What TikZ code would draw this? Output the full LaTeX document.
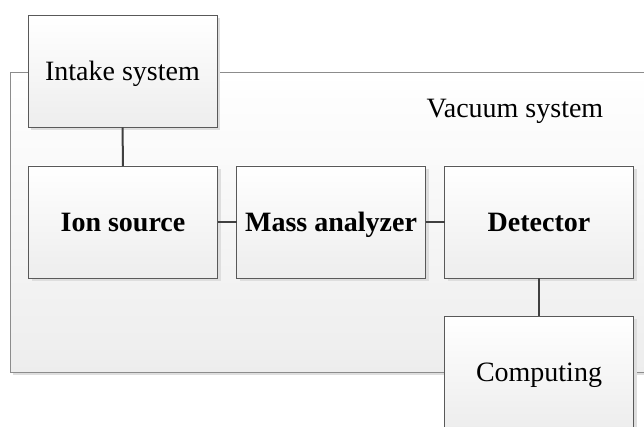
\documentclass[tikz,border=0pt]{standalone}
\usepackage{fontspec}
\setmainfont{Liberation Serif}
\usetikzlibrary{positioning,shadows}
\tikzset{%
  block/.style   = {shape=rectangle, draw=black!65, line width=0.9pt,%
                    top color=white, bottom color=black!7,%
                    minimum width=189pt, minimum height=112pt,%
                    inner sep=0pt, outer sep=0pt,%
                    text height=19pt, text depth=0pt,%
                    drop shadow={shadow xshift=3pt, shadow yshift=-3pt,%
                                 fill=black!13, opacity=1},%
                    font=\fontsize{28}{33}\selectfont},%
  stage/.style   = {block, font=\fontsize{28}{33}\selectfont\bfseries},%
  chamber/.style = {block, draw=black!45, minimum width=650pt,%
                    minimum height=300pt},%
  link/.style    = {draw=black!75, line width=2pt}%
}

\begin{document}
\begin{tikzpicture}[x=1pt,y=1pt,
	every node/.style = {font=\fontsize{28}{33}\selectfont}]
		\useasboundingbox (0,0) rectangle (644,426);
		\clip (0,0) rectangle (644,426);
		% vacuum chamber behind everything
		\node [chamber] (vacuum) at (335,204) {};
		\node (vaclabel) at (515,315) {Vacuum system};
		\node [block] (intake) at (122.5,354.5) {Intake system};
		\node [stage] (ion) at (123,204) {Ion source};
		\node [stage, right=19pt of ion] (mass) {Mass analyzer};
		\node [stage, right=19pt of mass] (det) {Detector};
		\node [block] (comp) at (det.south |- 0,54) {Computing};
		% connections
		\draw [link] (intake) -- (ion);
		\draw [link] (ion) -- (mass);
		\draw [link] (mass) -- (det);
		\draw [link] (det) -- (comp);
	\end{tikzpicture}
\end{document}
